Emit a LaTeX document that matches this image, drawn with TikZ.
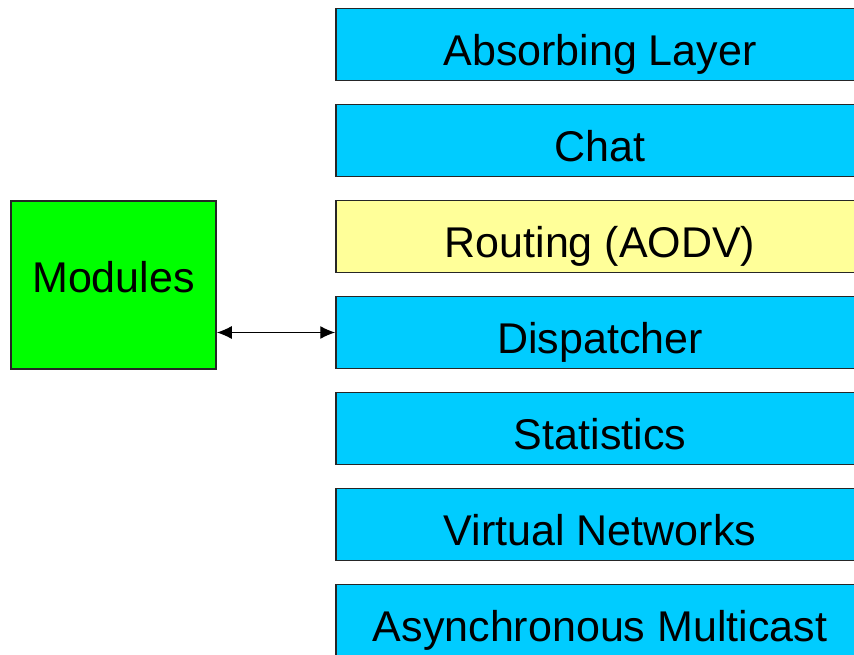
\documentclass[tikz,border=0pt]{standalone}
\usepackage{fontspec}
\setmainfont{Liberation Sans}
\usepackage{xcolor}
\usepackage{tikz}
\usetikzlibrary{arrows.meta, positioning}
\definecolor{layerc}{HTML}{00CCFF}
\definecolor{routec}{HTML}{FFFF99}
\definecolor{modc}{HTML}{00FF00}

\begin{document}
\begin{tikzpicture}[
  x=1pt, y=-1pt,
  node distance=22.5pt,
  box/.style={draw=black!85, line width=1.5pt, align=center, inner sep=0pt,
    font=\fontsize{43}{45}\selectfont},
  layer/.style={box, fill=layerc, minimum width=528pt, minimum height=72pt,
    text height=42pt, text depth=0pt},
  route/.style={layer, fill=routec},
  mod/.style={box, fill=modc, minimum width=205pt, minimum height=168pt,
    text height=14pt, text depth=0pt},
  arr/.style={{Latex[length=15pt,width=13pt]}-{Latex[length=15pt,width=13pt]}, line width=1.2pt}
]
\useasboundingbox (0,0) rectangle (854,655);
\clip (0,0) rectangle (854,655);

% protocol stack, top to bottom
\node[layer] (absorb) at (600,44.5) {Absorbing Layer};
\node[layer, below=of absorb] (chat) {Chat};
\node[route, below=of chat] (routing) {Routing (AODV)};
\node[layer, below=of routing] (disp) {Dispatcher};
\node[layer, below=of disp] (stats) {Statistics};
\node[layer, below=of stats] (vnet) {Virtual Networks};
\node[layer, below=of vnet] (amc) {Asynchronous Multicast};

\node[mod] (mods) at (113.5,285) {Modules};

\draw[arr] (mods.east |- disp.west) -- (disp.west);
\end{tikzpicture}
\end{document}
